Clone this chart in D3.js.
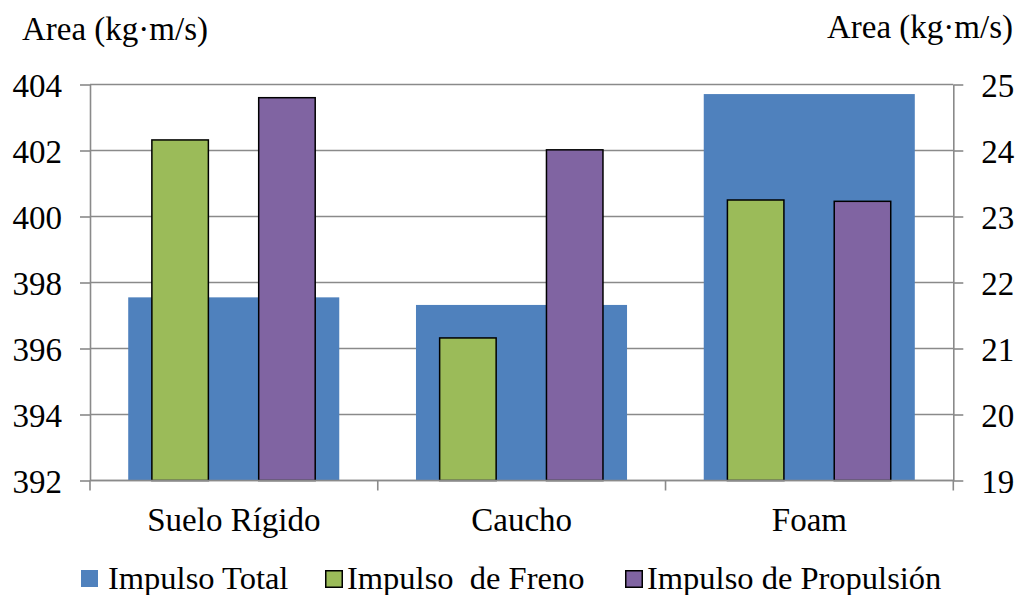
<!DOCTYPE html>
<html>
<head>
<meta charset="utf-8">
<script src="https://cdn.jsdelivr.net/npm/d3@7"></script>
<style>
  html, body { margin: 0; padding: 0; background: #fff; }
  svg text { font-family: "Liberation Serif", "Tinos", "Times New Roman", "DejaVu Serif", serif; }
</style>
</head>
<body>
<svg id="chart" width="1020" height="595"></svg>
<script>
// Surfaces compared
const categories = ["Suelo Rígido", "Caucho", "Foam"];

// Total impulse (left axis)
const impulsoTotal = [397.55, 397.32, 403.71];
// Braking and propulsion impulse (right axis)
const impulsoFreno = [24.16, 21.16, 23.25];
const impulsoPropulsion = [24.80, 24.01, 23.23];

const leftTicks = [392, 394, 396, 398, 400, 402, 404];
const rightTicks = [19, 20, 21, 22, 23, 24, 25];

const seriesNames = ["Impulso Total", "Impulso  de Freno", "Impulso de Propulsión"];
const colors = ["#4F81BD", "#9BBB59", "#8064A2"];

const serif = '"Liberation Serif", "Tinos", "Times New Roman", "DejaVu Serif", serif';
const svg = d3.select("#chart");
const plot = { left: 90, right: 953.3, top: 84.5, bottom: 480.5 };
const gridColor = "#8a8a8a";

const x = d3.scaleBand().domain(categories).range([plot.left, plot.right]).padding(0);
const bw = x.bandwidth();

const yL = d3.scaleLinear().domain([392, 404]).range([plot.bottom, plot.top]);
const yR = d3.scaleLinear().domain([19, 25]).range([plot.bottom, plot.top]);

// inner positions for the two secondary-axis series
const xInner = d3.scaleBand()
  .domain(["freno", "propulsion"])
  .range([bw * 0.2124, bw * 0.7852])
  .paddingInner(0.457)
  .paddingOuter(0);

// horizontal gridlines
svg.append("g").selectAll("line").data(leftTicks).join("line")
  .attr("x1", plot.left).attr("x2", plot.right)
  .attr("y1", d => yL(d)).attr("y2", d => yL(d))
  .attr("stroke", gridColor).attr("stroke-width", 1.6);

// Impulso Total bars
svg.append("g").selectAll("rect").data(categories).join("rect")
  .attr("x", d => x(d) + bw * 0.1328)
  .attr("width", bw * 0.7334)
  .attr("y", (d, i) => yL(impulsoTotal[i]))
  .attr("height", (d, i) => yL(392) - yL(impulsoTotal[i]))
  .attr("fill", colors[0]);

// Freno and Propulsión bars
const sec = [
  { key: "freno", values: impulsoFreno, color: colors[1] },
  { key: "propulsion", values: impulsoPropulsion, color: colors[2] }
];
sec.forEach(s => {
  svg.append("g").selectAll("rect").data(categories).join("rect")
    .attr("x", d => x(d) + xInner(s.key) + 0.75)
    .attr("width", xInner.bandwidth() - 1.5)
    .attr("y", (d, i) => yR(s.values[i]))
    .attr("height", (d, i) => yR(19) - yR(s.values[i]))
    .attr("fill", s.color)
    .attr("stroke", "#000")
    .attr("stroke-width", 1.5);
});

function styleAxis(g) {
  g.attr("font-family", serif);
  g.select(".domain").attr("stroke", gridColor).attr("stroke-width", 1.6);
  g.selectAll(".tick line").attr("stroke", gridColor).attr("stroke-width", 1.6);
  g.selectAll(".tick text")
    .style("font-family", serif)
    .attr("font-size", 33)
    .attr("fill", "#000").attr("dy", "0.36em");
}

// left axis
svg.append("g")
  .attr("transform", `translate(${plot.left},0)`)
  .call(d3.axisLeft(yL).tickValues(leftTicks).tickFormat(d3.format("d"))
    .tickSize(10).tickSizeOuter(0).tickPadding(18))
  .call(styleAxis);

// right axis
svg.append("g")
  .attr("transform", `translate(${plot.right},0)`)
  .call(d3.axisRight(yR).tickValues(rightTicks).tickFormat(d3.format("d"))
    .tickSize(10).tickSizeOuter(0).tickPadding(18))
  .call(styleAxis);

// category axis with ticks on band boundaries
svg.append("line")
  .attr("x1", plot.left).attr("x2", plot.right)
  .attr("y1", plot.bottom).attr("y2", plot.bottom)
  .attr("stroke", gridColor).attr("stroke-width", 1.6);
const bounds = categories.map(c => x(c)).concat([x(categories[categories.length - 1]) + bw]);
svg.append("g").selectAll("line").data(bounds).join("line")
  .attr("x1", d => d).attr("x2", d => d)
  .attr("y1", plot.bottom).attr("y2", plot.bottom + 10)
  .attr("stroke", gridColor).attr("stroke-width", 1.6);
svg.append("g").selectAll("text").data(categories).join("text")
  .attr("x", d => x(d) + bw / 2)
  .attr("y", 530.5)
  .attr("text-anchor", "middle")
  .style("font-family", serif)
  .attr("font-size", 33)
  .attr("fill", "#000")
  .text(d => d);

// axis titles
svg.append("text").attr("x", 22).attr("y", 40)
  .style("font-family", serif)
  .attr("font-size", 33).attr("fill", "#000").text("Area (kg·m/s)");
svg.append("text").attr("x", 1013).attr("y", 38).attr("text-anchor", "end")
  .style("font-family", serif)
  .attr("font-size", 33).attr("fill", "#000").text("Area (kg·m/s)");

// legend
const legendX = [81, 325, 625];
const legend = svg.append("g");
seriesNames.forEach((name, i) => {
  const g = legend.append("g").attr("transform", `translate(${legendX[i]},0)`);
  g.append("rect")
    .attr("x", i === 0 ? 0 : 0.75).attr("y", i === 0 ? 570 : 570.75)
    .attr("width", i === 0 ? 17 : 16.5).attr("height", i === 0 ? 17 : 16.5)
    .attr("fill", colors[i])
    .attr("stroke", i === 0 ? "none" : "#000")
    .attr("stroke-width", 1.5);
  g.append("text")
    .attr("x", i === 0 ? 27 : 22).attr("y", 589)
    .style("font-family", serif)
    .attr("font-size", 32.5).attr("fill", "#000")
    .style("white-space", "pre")
    .text(name);
});
</script>
</body>
</html>
